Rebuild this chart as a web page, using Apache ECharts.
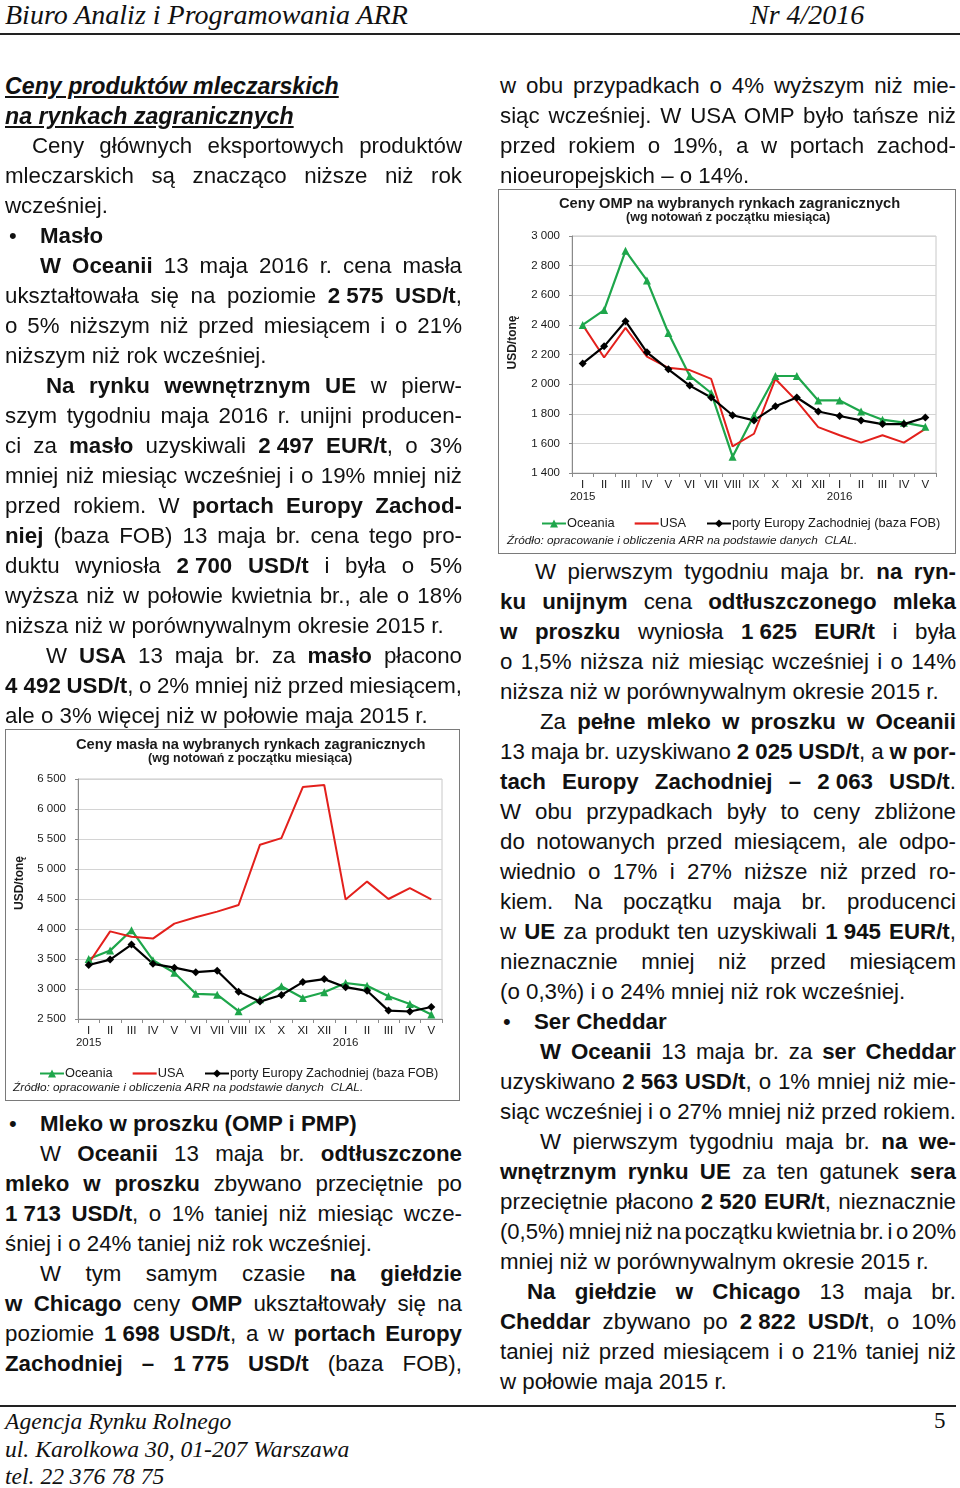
<!DOCTYPE html>
<html lang="pl">
<head>
<meta charset="utf-8">
<script src="https://cdn.jsdelivr.net/npm/echarts@6/dist/echarts.min.js"></script>
<style>
html,body{margin:0;padding:0;background:#fff;}
body{width:960px;height:1488px;position:relative;overflow:hidden;font-family:'Liberation Sans',Arial,sans-serif;color:#111;}
.hdr{position:absolute;font-family:'Liberation Serif','Times New Roman',serif;font-style:italic;font-size:28px;line-height:30px;color:#111;white-space:nowrap;}
.rule{position:absolute;left:0;height:2px;background:#222;}
.ln{position:absolute;font-size:22.3px;line-height:30px;height:30px;white-space:nowrap;}
.ln .in{white-space:nowrap;display:inline-block;transform-origin:0 50%;}
.n{word-spacing:0 !important;}
.ttl{font-weight:bold;font-style:italic;text-decoration:underline;font-size:23.2px;}
.bul{position:absolute;font-size:22px;line-height:30px;}
.chartbox{position:absolute;border:1px solid #7a7a7a;box-sizing:border-box;}
</style>
</head>
<body>
<div class="hdr" style="left:5px;top:0px;">Biuro Analiz i Programowania ARR</div>
<div class="hdr" style="left:750px;top:0px;">Nr 4/2016</div>
<div class="rule" style="top:33px;width:960px;"></div>

<div id="c1" class="chartbox" style="left:5px;top:729px;width:455px;height:372px;"></div>
<div id="c2" class="chartbox" style="left:498px;top:189px;width:458px;height:365px;"></div>

<div class="rule" style="top:1405px;width:956px;"></div>
<div class="hdr" style="left:5px;top:1406px;font-size:23.6px;">Agencja Rynku Rolnego</div>
<div class="hdr" style="left:5px;top:1434px;font-size:23.6px;">ul. Karolkowa 30, 01-207 Warszawa</div>
<div class="hdr" style="left:5px;top:1461px;font-size:23.6px;">tel. 22 376 78 75</div>
<div class="hdr" style="left:934px;top:1406px;font-size:23px;font-style:normal;">5</div>

<script>
// ---------- chart data ----------
var months = ['I','II','III','IV','V','VI','VII','VIII','IX','X','XI','XII','I','II','III','IV','V'];
var yearLabels = {0:'2015', 12:'2016'};
var seriesNames = ['Oceania','USA','porty Europy Zachodniej (baza FOB)'];

// Butter (masło), USD/t
var butterOceania = [3500,3640,3980,3480,3270,2920,2905,2630,2830,3045,2850,2945,3100,3055,2880,2750,2575];
var butterUSA     = [3430,3960,3870,3840,4090,4195,4290,4400,5405,5515,6365,6400,4490,4790,4500,4680,4492];
var butterEurope  = [3400,3490,3740,3420,3355,3280,3305,2955,2790,2900,3115,3165,3030,2970,2640,2625,2700];

// OMP (odtłuszczone mleko w proszku), USD/t
var ompOceania = [2400,2500,2900,2700,2345,2055,1940,1510,1790,2055,2055,1890,1890,1815,1760,1740,1713];
var ompUSA     = [2400,2180,2380,2185,2110,2095,2035,1580,1665,2035,1885,1710,1655,1605,1655,1605,1698];
var ompEurope  = [2140,2255,2425,2215,2100,1990,1910,1790,1755,1850,1910,1815,1785,1755,1730,1730,1775];

var butterAxis = {min:2500, max:6500, interval:500};
var ompAxis = {min:1400, max:3000, interval:200};

var colors = ['#1ea64b','#e3201c','#000000'];
var FONT = "'Liberation Sans', Arial, sans-serif";

function fmt(v){ return String(v).replace(/\B(?=(\d{3})+(?!\d))/g,' '); }

function makeOption(cfg){
  return {
    animation:false,
    textStyle:{fontFamily:FONT},
    graphic:[
      {type:'text', left:cfg.titleX, top:cfg.titleY, style:{text:cfg.title, font:'bold 14.7px '+FONT, fill:'#1a1a1a'}},
      {type:'text', left:cfg.subX, top:cfg.subY, style:{text:'(wg notowań z początku miesiąca)', font:'bold 12.5px '+FONT, fill:'#1a1a1a'}},
      {type:'text', left:cfg.srcX, top:cfg.srcY, style:{text:'Źródło: opracowanie i obliczenia ARR na podstawie danych  CLAL.', font:'italic 11.8px '+FONT, fill:'#1a1a1a'}}
    ],
    legend:{
      left:cfg.legX, top:cfg.legY, itemWidth:24, itemHeight:10, itemGap:20,
      textStyle:{fontSize:12.8, color:'#1a1a1a', fontFamily:FONT, padding:[0,0,0,-4]},
      data:[
        {name:seriesNames[0]},
        {name:seriesNames[1], icon:'path://M0,0 L120,0 L120,11 L0,11 Z', itemStyle:{color:colors[1]}},
        {name:seriesNames[2]}
      ]
    },
    grid:{left:cfg.grid[0], top:cfg.grid[1], right:cfg.grid[2], bottom:cfg.grid[3], show:true, borderColor:'#c8c8c8', borderWidth:1},
    xAxis:{
      type:'category', data:months, boundaryGap:true,
      axisLine:{lineStyle:{color:'#8a8a8a'}},
      axisTick:{show:true, length:4, lineStyle:{color:'#8a8a8a'}},
      axisLabel:{interval:0, fontSize:11.5, color:'#1a1a1a', margin:6, lineHeight:12,
        formatter:function(v,i){ return yearLabels[i] ? v+'\n'+yearLabels[i] : v; }}
    },
    yAxis:{
      type:'value', min:cfg.axis.min, max:cfg.axis.max, interval:cfg.axis.interval,
      name:'USD/tonę', nameLocation:'middle', nameGap:cfg.nameGap, nameRotate:90,
      nameTextStyle:{fontWeight:'bold', fontSize:12, color:'#1a1a1a', padding:[0,0,0,cfg.namePad]},
      axisLine:{show:true, lineStyle:{color:'#8a8a8a'}},
      axisTick:{show:true, length:3, lineStyle:{color:'#8a8a8a'}},
      axisLabel:{fontSize:11.5, color:'#1a1a1a', margin:12, formatter:fmt},
      splitLine:{show:true, lineStyle:{color:'#d4d4d4', width:1}}
    },
    series:[
      {name:seriesNames[0], type:'line', data:cfg.data[0], color:colors[0], symbol:'triangle', symbolSize:8, lineStyle:{width:2.2}, itemStyle:{color:colors[0]}},
      {name:seriesNames[1], type:'line', data:cfg.data[1], color:colors[1], symbol:'none', lineStyle:{width:2}},
      {name:seriesNames[2], type:'line', data:cfg.data[2], color:colors[2], symbol:'diamond', symbolSize:8, lineStyle:{width:2.2}, itemStyle:{color:colors[2]}, z:3}
    ]
  };
}

var c1 = echarts.init(document.getElementById('c1'), null, {renderer:'canvas'});
c1.setOption(makeOption({
  title:'Ceny masła na wybranych rynkach zagranicznych',
  titleX:70, titleY:7, subX:142, subY:22, srcX:7, srcY:352,
  legX:28, legY:332,
  grid:[65,49,17,81], axis:butterAxis, nameGap:52, namePad:32,
  data:[butterOceania, butterUSA, butterEurope]
}));

var c2 = echarts.init(document.getElementById('c2'), null, {renderer:'canvas'});
c2.setOption(makeOption({
  title:'Ceny OMP na wybranych rynkach zagranicznych',
  titleX:60, titleY:6, subX:127, subY:21, srcX:8, srcY:345,
  legX:37, legY:322,
  grid:[67,46,19,80], axis:ompAxis, nameGap:53, namePad:24,
  data:[ompOceania, ompUSA, ompEurope]
}));

// ---------- page text ----------
function N(s){ return '<span class="n">'+s+'</span>'; }
var leftLines = [
  [86,5,'<span class="ttl">Ceny produktów mleczarskich</span>','l'],
  [116,5,'<span class="ttl">na rynkach zagranicznych</span>','l'],
  [146,32,'Ceny głównych eksportowych produktów','j'],
  [176,5,'mleczarskich są znacząco niższe niż rok','j'],
  [206,5,'wcześniej.','l'],
  [236,40,'<b>Masło</b>','l'],
  [266,40,'<b>W Oceanii</b> 13 maja 2016 r. cena masła','j'],
  [296,5,'ukształtowała się na poziomie <b>'+N('2 575')+' USD/t</b>,','j'],
  [326,5,'o 5% niższym niż przed miesiącem i o 21%','j'],
  [356,5,'niższym niż rok wcześniej.','l'],
  [386,46,'<b>Na rynku wewnętrznym UE</b> w pierw-','j'],
  [416,5,'szym tygodniu maja 2016 r. unijni producen-','j'],
  [446,5,'ci za <b>masło</b> uzyskiwali <b>'+N('2 497')+' EUR/t</b>, o 3%','j'],
  [476,5,'mniej niż miesiąc wcześniej i o 19% mniej niż','j'],
  [506,5,'przed rokiem. W <b>portach Europy Zachod-</b>','j'],
  [536,5,'<b>niej</b> (baza FOB) 13 maja br. cena tego pro-','j'],
  [566,5,'duktu wyniosła <b>'+N('2 700')+' USD/t</b> i była o 5%','j'],
  [596,5,'wyższa niż w połowie kwietnia br., ale o 18%','j'],
  [626,5,'niższa niż w porównywalnym okresie 2015 r.','l'],
  [656,46,'W <b>USA</b> 13 maja br. za <b>masło</b> płacono','j'],
  [686,5,'<b>'+N('4 492')+' USD/t</b>, o 2% mniej niż przed miesiącem,','j'],
  [716,5,'ale o 3% więcej niż w połowie maja 2015 r.','l'],
  [1124,40,'<b>Mleko w proszku (OMP i PMP)</b>','l'],
  [1154,40,'W <b>Oceanii</b> 13 maja br. <b>odtłuszczone</b>','j'],
  [1184,5,'<b>mleko w proszku</b> zbywano przeciętnie po','j'],
  [1214,5,'<b>'+N('1 713')+' USD/t</b>, o 1% taniej niż miesiąc wcze-','j'],
  [1244,5,'śniej i o 24% taniej niż rok wcześniej.','l'],
  [1274,40,'W tym samym czasie <b>na giełdzie</b>','j'],
  [1304,5,'<b>w Chicago</b> ceny <b>OMP</b> ukształtowały się na','j'],
  [1334,5,'poziomie <b>'+N('1 698')+' USD/t</b>, a w <b>portach Europy</b>','j'],
  [1364,5,'<b>Zachodniej – '+N('1 775')+' USD/t</b> (baza FOB),','j']
];
var rightLines = [
  [86,500,'w obu przypadkach o 4% wyższym niż mie-','j'],
  [116,500,'siąc wcześniej. W USA OMP było tańsze niż','j'],
  [146,500,'przed rokiem o 19%, a w portach zachod-','j'],
  [176,500,'nioeuropejskich – o 14%.','l'],
  [572,535,'W pierwszym tygodniu maja br. <b>na ryn-</b>','j'],
  [602,500,'<b>ku unijnym</b> cena <b>odtłuszczonego mleka</b>','j'],
  [632,500,'<b>w proszku</b> wyniosła <b>'+N('1 625')+' EUR/t</b> i była','j'],
  [662,500,'o 1,5% niższa niż miesiąc wcześniej i o 14%','j'],
  [692,500,'niższa niż w porównywalnym okresie 2015 r.','l'],
  [722,540,'Za <b>pełne mleko w proszku w Oceanii</b>','j'],
  [752,500,'13 maja br. uzyskiwano <b>'+N('2 025')+' USD/t</b>, a <b>w por-</b>','j'],
  [782,500,'<b>tach Europy Zachodniej – '+N('2 063')+' USD/t</b>.','j'],
  [812,500,'W obu przypadkach były to ceny zbliżone','j'],
  [842,500,'do notowanych przed miesiącem, ale odpo-','j'],
  [872,500,'wiednio o 17% i 27% niższe niż przed ro-','j'],
  [902,500,'kiem. Na początku maja br. producenci','j'],
  [932,500,'w <b>UE</b> za produkt ten uzyskiwali <b>'+N('1 945')+' EUR/t</b>,','j'],
  [962,500,'nieznacznie mniej niż przed miesiącem','j'],
  [992,500,'(o 0,3%) i o 24% mniej niż rok wcześniej.','l'],
  [1022,534,'<b>Ser Cheddar</b>','l'],
  [1052,540,'<b>W Oceanii</b> 13 maja br. za <b>ser Cheddar</b>','j'],
  [1082,500,'uzyskiwano <b>'+N('2 563')+' USD/t</b>, o 1% mniej niż mie-','j'],
  [1112,500,'siąc wcześniej i o 27% mniej niż przed rokiem.','l'],
  [1142,540,'W pierwszym tygodniu maja br. <b>na we-</b>','j'],
  [1172,500,'<b>wnętrznym rynku UE</b> za ten gatunek <b>sera</b>','j'],
  [1202,500,'przeciętnie płacono <b>'+N('2 520')+' EUR/t</b>, nieznacznie','j'],
  [1232,500,'(0,5%) mniej niż na początku kwietnia br. i o 20%','j'],
  [1262,500,'mniej niż w porównywalnym okresie 2015 r.','l'],
  [1292,527,'<b>Na giełdzie w Chicago</b> 13 maja br.','j'],
  [1322,500,'<b>Cheddar</b> zbywano po <b>'+N('2 822')+' USD/t</b>, o 10%','j'],
  [1352,500,'taniej niż przed miesiącem i o 21% taniej niż','j'],
  [1382,500,'w połowie maja 2015 r.','l']
];
var bullets = [[236,9],[1124,9],[1022,503]];

function countSpaces(span){
  var total = (span.textContent.match(/ /g)||[]).length;
  var ns = span.querySelectorAll('.n');
  for (var i=0;i<ns.length;i++) total -= (ns[i].textContent.match(/ /g)||[]).length;
  return total;
}
function place(lines, right){
  lines.forEach(function(L){
    var d = document.createElement('div');
    d.className = 'ln';
    d.style.top = (L[0]-15)+'px';
    d.style.left = L[1]+'px';
    d.style.width = (right-L[1])+'px';
    d.innerHTML = '<span class="in">'+L[2]+'</span>';
    document.body.appendChild(d);
    var sp = d.firstChild;
    var w = right-L[1];
    var nat = sp.getBoundingClientRect().width;
    var cnt = countSpaces(sp);
    if ((L[3]==='j' || nat > w) && cnt>0){
      var ws = (w-nat)/cnt;
      if (ws < -2.5) {
        // squeeze spaces moderately, then condense the rest horizontally
        sp.style.wordSpacing = '-2.5px';
        var nat2 = sp.getBoundingClientRect().width;
        sp.style.transform = 'scaleX(' + (w/nat2) + ')';
      } else {
        sp.style.wordSpacing = ws+'px';
      }
    }
  });
}
place(leftLines, 462);
place(rightLines, 956);
bullets.forEach(function(b){
  var d = document.createElement('div');
  d.className='bul'; d.style.top=(b[0]-15)+'px'; d.style.left=b[1]+'px'; d.textContent='•';
  document.body.appendChild(d);
});
</script>
</body>
</html>
